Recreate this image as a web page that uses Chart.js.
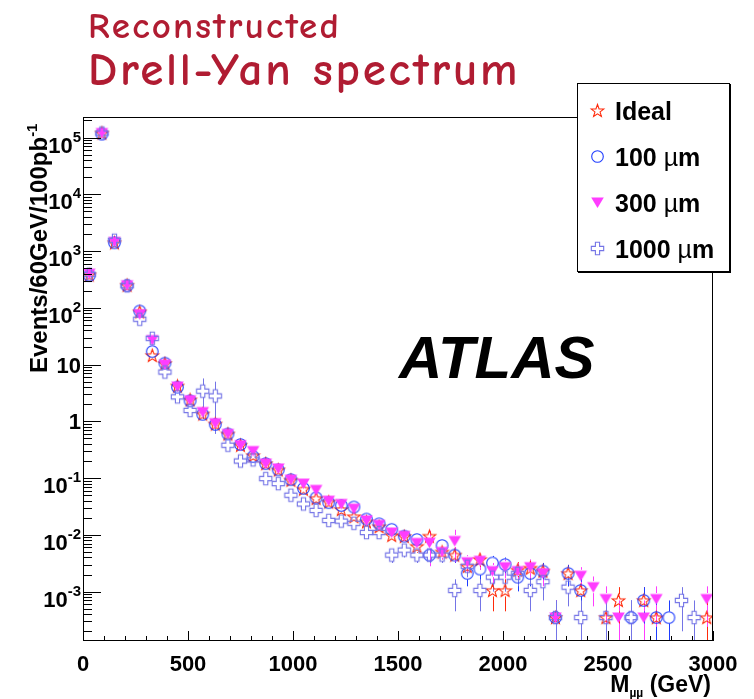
<!DOCTYPE html>
<html>
<head>
<meta charset="utf-8">
<script src="https://cdn.jsdelivr.net/npm/chart.js@4.4.1/dist/chart.umd.min.js"></script>
<style>
    body { margin: 0; background: #fff; }
    #wrap { position: relative; width: 754px; height: 699px; overflow: hidden; }
    #chart { position: absolute; left: 0; top: 0; }
    .title { position: absolute; left: 88px; color: #b01c32; font-family: 'Comic Sans MS', 'Comic Neue', 'DejaVu Sans', sans-serif; font-weight: bold; white-space: nowrap; line-height: 1; }
    .rootfont { font-family: 'Liberation Sans', Arial, Helvetica, sans-serif; font-weight: bold; white-space: nowrap; line-height: 1; position: absolute; color: #000; }
    #legend { position: absolute; left: 577px; top: 83px; width: 153px; height: 189px; border: 1px solid #000; box-shadow: 1px 1px 0 #000; background: #fff; box-sizing: border-box; }
    .legend-row { position: absolute; left: 0; height: 30px; width: 150px; }
    .legend-row canvas { position: absolute; left: 11px; top: 6px; }
    .legend-row span { position: absolute; left: 37px; top: 3px; font-size: 25px; }
    .legend-row .mu { font-weight: normal; }
</style>
</head>
<body>
<div id="wrap">
    <canvas id="chart" width="754" height="699"></canvas>
    <div class="title" style="top: 8px; font-size: 37px; letter-spacing: 2.2px;">Reconstructed</div>
    <div class="title" style="top: 47px; font-size: 47px; letter-spacing: 2.7px;">Drell-Yan spectrum</div>
    <div class="rootfont" style="left: 399px; top: 328px; font-size: 60px; font-style: italic;">ATLAS</div>
    <div class="rootfont" id="ytitle" style="left: 24px; top: 373px; font-size: 24px; transform-origin: 0 0; transform: rotate(-90deg);">Events/60GeV/100pb<sup style="font-size: 15px; vertical-align: 10px;">-1</sup></div>
    <div class="rootfont" id="xtitle" style="right: 43px; top: 673px; font-size: 23px;">M<sub style="font-size: 12px; vertical-align: -5px;">&micro;&micro;</sub> (GeV)</div>
    <div id="legend"></div>
</div>
<script>
// bin centres of the 60 GeV mass bins
const binCenters = [30, 90, 150, 210, 270, 330, 390, 450, 510, 570,
    630, 690, 750, 810, 870, 930, 990, 1050, 1110, 1170,
    1230, 1290, 1350, 1410, 1470, 1530, 1590, 1650, 1710, 1770,
    1830, 1890, 1950, 2010, 2070, 2130, 2190, 2250, 2310, 2370,
    2430, 2490, 2550, 2610, 2670, 2730, 2790, 2850, 2910, 2970];

const seriesNames = ['Ideal', '100 \u00b5m', '300 \u00b5m', '1000 \u00b5m'];

const idealValues = [380, 1.2e5, 1400, 250, 85, 14.5, 10.5, 4.2, 2.4, 1.35,
    0.9, 0.6, 0.38, 0.25, 0.18, 0.14, 0.092, 0.064, 0.044, 0.038,
    0.028, 0.021, 0.017, 0.014, 0.0098, 0.0094, 0.0063, 0.0095, 0.005, 0.0044,
    0.0028, 0.0037, 0.00105, 0.00105, 0.0024, 0.0026, 0.0023, 0.00035, 0.0021, 0.00105,
    null, 0.00035, 0.0007, null, 0.0007, 0.00035, null, null, null, 0.00035];
const idealErrors = [0, 0, 0, 0, 0, 0, 0, 0, 0, 0,
    0, 0, 0, 0, 0, 0, 0, 0, 0, 0,
    0, 0, 0, 0, 0.0018, 0.0018, 0.0015, 0.0018, 0.0013, 0.0012,
    0.001, 0.0011, 0.0006, 0.0006, 0.0009, 0.00095, 0.0009, 0.00035, 0.00086, 0.0006,
    0, 0.00035, 0.0005, 0, 0.0005, 0.00035, 0, 0, 0, 0.00035];

const res100Values = [370, 1.15e5, 1400, 245, 88, 17, 10.6, 4.0, 2.3, 1.33,
    0.88, 0.6, 0.39, 0.24, 0.18, 0.14, 0.094, 0.066, 0.045, 0.037,
    0.033, 0.031, 0.019, 0.0157, 0.0125, 0.0095, 0.0083, 0.0044, 0.0065, 0.0044,
    0.0021, 0.0025, 0.0032, 0.003, 0.0018, 0.0021, 0.0023, 0.00035, 0.0021, 0.00105,
    null, null, null, 0.00035, 0.0007, 0.00035, 0.00035, null, null, null];
const res100Errors = [0, 0, 0, 0, 0, 0, 0, 0, 0, 0,
    0, 0, 0, 0, 0, 0, 0, 0, 0, 0,
    0, 0, 0, 0, 0.0021, 0.0018, 0.0017, 0.0012, 0.0015, 0.0012,
    0.00086, 0.00094, 0.00106, 0.001, 0.00079, 0.00086, 0.0009, 0.00035, 0.00086, 0.0006,
    0, 0, 0, 0.00035, 0.0005, 0.00035, 0.00035, 0, 0, 0];

const res300Values = [400, 1.2e5, 1450, 250, 77, 27, 10, 4.1, 2.35, 1.46,
    0.93, 0.6, 0.38, 0.3, 0.18, 0.148, 0.094, 0.08, 0.062, 0.04,
    0.035, 0.029, 0.018, 0.015, 0.011, 0.0096, 0.0072, 0.0073, 0.005, 0.0078,
    0.0033, 0.0035, 0.0023, 0.0027, 0.0023, 0.0027, 0.0021, 0.00035, null, 0.0019,
    0.0012, 0.00074, 0.00035, null, 0.00035, 0.00074, null, null, null, 0.00074];
const res300Errors = [0, 0, 0, 0, 0, 0, 0, 0, 0, 0,
    0, 0, 0, 0, 0, 0, 0, 0, 0, 0,
    0, 0, 0, 0, 0.002, 0.0018, 0.0016, 0.0045, 0.0013, 0.0045,
    0.0011, 0.0011, 0.0009, 0.001, 0.0009, 0.001, 0.00086, 0.00035, 0, 0.0008,
    0.00065, 0.0005, 0.00035, 0, 0.00035, 0.0005, 0, 0, 0, 0.0005];

const res1000Values = [390, 1.2e5, 1550, 245, 63, 29, 7.4, 2.7, 1.56, 3.4,
    2.8, 0.38, 0.2, 0.21, 0.098, 0.08, 0.05, 0.035, 0.027, 0.018,
    0.0175, 0.016, 0.011, 0.011, 0.0044, 0.0054, 0.0044, 0.0044, 0.0044, 0.00105,
    0.0028, 0.00105, 0.0018, 0.0018, 0.0021, 0.00105, 0.0015, 0.00035, 0.0012, 0.00035,
    null, 0.00035, null, 0.00035, null, null, null, 0.0007, 0.00035, null];
const res1000Errors = [0, 0, 0, 0, 0, 0, 0, 0, 0, 2.3,
    2.2, 0, 0, 0, 0, 0, 0, 0, 0, 0,
    0, 0, 0, 0, 0.0012, 0.0014, 0.0012, 0.0012, 0.0012, 0.0006,
    0.001, 0.0006, 0.0008, 0.0008, 0.00086, 0.0006, 0.0008, 0.00035, 0.00065, 0.00035,
    0, 0.00035, 0, 0.00035, 0, 0, 0, 0.0005, 0.00035, 0];

const xTickLabels = ['0', '500', '1000', '1500', '2000', '2500', '3000'];
const yTickExponents = [-3, -2, -1, 0, 1, 2, 3, 4, 5];

const seriesColors = ['#ff2a0a', '#1f3dff', '#ff3cff', '#7474e6'];
const seriesMarkers = ['star', 'circle', 'triangle', 'cross'];

const labelFont = '"Liberation Sans", Arial, Helvetica, sans-serif';

function makeMarker(kind, color) {
    const c = document.createElement('canvas');
    c.width = 17;
    c.height = 17;
    const ctx = c.getContext('2d');
    ctx.translate(8.5, 8.5);
    ctx.strokeStyle = color;
    ctx.fillStyle = color;
    ctx.lineWidth = 1.1;
    ctx.beginPath();
    if (kind === 'star') {
        for (let i = 0; i < 10; i++) {
            const r = i % 2 ? 2.7 : 6.6;
            const a = -Math.PI / 2 + i * Math.PI / 5;
            ctx.lineTo(r * Math.cos(a), r * Math.sin(a) + 0.6);
        }
        ctx.closePath();
        ctx.stroke();
    } else if (kind === 'circle') {
        ctx.arc(0, 0, 5.8, 0, Math.PI * 2);
        ctx.stroke();
    } else if (kind === 'triangle') {
        ctx.moveTo(-6.3, -5);
        ctx.lineTo(6.3, -5);
        ctx.lineTo(0, 5.4);
        ctx.closePath();
        ctx.fill();
    } else {
        const a = 6.2, b = 2.1;
        const pts = [[-b, -a], [b, -a], [b, -b], [a, -b], [a, b], [b, b],
            [b, a], [-b, a], [-b, b], [-a, b], [-a, -b], [-b, -b]];
        pts.forEach(([px, py]) => ctx.lineTo(px, py));
        ctx.closePath();
        ctx.stroke();
    }
    return c;
}

function buildPoints(values, errors) {
    const points = [];
    values.forEach((v, i) => {
        if (v !== null) {
            points.push({ x: binCenters[i], y: v, err: errors[i] });
        }
    });
    return points;
}

const errorBarPlugin = {
    id: 'errorBars',
    beforeDatasetsDraw(chart) {
        const { ctx, chartArea: area, scales: { y } } = chart;
        ctx.save();
        ctx.beginPath();
        ctx.rect(area.left, area.top, area.right - area.left, area.bottom - area.top);
        ctx.clip();
        ctx.lineWidth = 1;
        chart.data.datasets.forEach((ds, di) => {
            const meta = chart.getDatasetMeta(di);
            ctx.strokeStyle = ds.errorColor;
            ctx.beginPath();
            ds.data.forEach((p, i) => {
                if (!p.err) return;
                const el = meta.data[i];
                const px = Math.round(el.x) + 0.5;
                const top = y.getPixelForValue(p.y + p.err);
                const low = p.y - p.err;
                const bottom = low > 0 ? y.getPixelForValue(low) : area.bottom;
                const gap = 6;
                if (el.y - gap > top) {
                    ctx.moveTo(px, top);
                    ctx.lineTo(px, el.y - gap);
                }
                if (bottom > el.y + gap) {
                    ctx.moveTo(px, el.y + gap);
                    ctx.lineTo(px, bottom);
                }
            });
            ctx.stroke();
        });
        ctx.restore();
    }
};

const framePlugin = {
    id: 'rootFrame',
    afterDraw(chart) {
        const { ctx, chartArea: area, scales: { x, y } } = chart;
        ctx.save();
        ctx.strokeStyle = '#000';
        ctx.lineWidth = 1;
        ctx.beginPath();
        // log ticks on the left, inside the frame
        for (let d = -4; d <= 5; d++) {
            for (let k = 1; k <= 9; k++) {
                const v = k * Math.pow(10, d);
                if (v < y.min || v > y.max) continue;
                const py = Math.round(y.getPixelForValue(v)) + 0.5;
                ctx.moveTo(area.left, py);
                ctx.lineTo(area.left + (k === 1 ? 18 : 9), py);
            }
        }
        // x ticks every 100 GeV, major every 500
        for (let v = x.min; v <= x.max; v += 100) {
            const px = Math.round(x.getPixelForValue(v)) + 0.5;
            ctx.moveTo(px, area.bottom);
            ctx.lineTo(px, area.bottom - (v % 500 === 0 ? 10 : 5));
        }
        ctx.stroke();
        ctx.strokeRect(area.left + 0.5, area.top + 0.5, area.right - area.left - 1, area.bottom - area.top - 1);

        ctx.fillStyle = '#000';
        ctx.textBaseline = 'alphabetic';
        ctx.textAlign = 'center';
        ctx.font = 'bold 22px ' + labelFont;
        xTickLabels.forEach(label => {
            ctx.fillText(label, x.getPixelForValue(Number(label)), 671);
        });

        ctx.textAlign = 'right';
        const rx = area.left - 2;
        yTickExponents.forEach(p => {
            const py = y.getPixelForValue(Math.pow(10, p));
            if (p === 0 || p === 1) {
                ctx.font = 'bold 22px ' + labelFont;
                ctx.fillText(p === 0 ? '1' : '10', rx, py + 8);
            } else {
                const expText = String(p);
                ctx.font = 'bold 15px ' + labelFont;
                ctx.fillText(expText, rx, py + 4);
                const w = ctx.measureText(expText).width;
                ctx.font = 'bold 22px ' + labelFont;
                ctx.fillText('10', rx - w, py + 15);
            }
        });
        ctx.restore();
    }
};

function buildLegend() {
    const legend = document.getElementById('legend');
    seriesNames.forEach((name, i) => {
        const row = document.createElement('div');
        row.className = 'legend-row';
        row.style.top = (12 + i * 46) + 'px';
        row.appendChild(makeMarker(seriesMarkers[i], seriesColors[i]));
        const text = document.createElement('span');
        text.className = 'rootfont';
        const parts = name.split('\u00b5');
        text.textContent = parts[0];
        if (parts.length > 1) {
            const mu = document.createElement('span');
            mu.className = 'mu';
            mu.style.position = 'static';
            mu.style.fontSize = '25px';
            mu.textContent = '\u00b5';
            text.appendChild(mu);
            text.appendChild(document.createTextNode(parts[1]));
        }
        row.appendChild(text);
        legend.appendChild(row);
    });
}

document.addEventListener('DOMContentLoaded', () => {
    const valueSets = [idealValues, res100Values, res300Values, res1000Values];
    const errorSets = [idealErrors, res100Errors, res300Errors, res1000Errors];

    const datasets = seriesNames.map((name, i) => ({
        label: name,
        data: buildPoints(valueSets[i], errorSets[i]),
        pointStyle: makeMarker(seriesMarkers[i], seriesColors[i]),
        pointRadius: 7,
        showLine: false,
        errorColor: seriesColors[i],
        order: seriesNames.length - 1 - i
    }));

    new Chart(document.getElementById('chart'), {
        type: 'scatter',
        data: { datasets },
        options: {
            responsive: false,
            animation: false,
            layout: { padding: { left: 83, right: 41, top: 117, bottom: 58 } },
            plugins: {
                legend: { display: false },
                tooltip: { enabled: false }
            },
            scales: {
                x: { type: 'linear', min: 0, max: 3000, display: false },
                y: { type: 'logarithmic', min: 1.35e-4, max: 2.3e5, display: false }
            }
        },
        plugins: [errorBarPlugin, framePlugin]
    });

    buildLegend();
});
</script>
</body>
</html>
